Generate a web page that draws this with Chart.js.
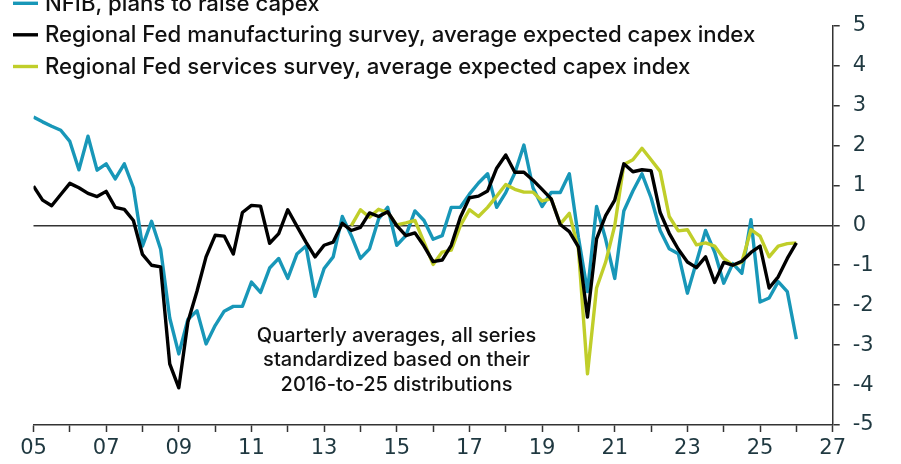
<!DOCTYPE html>
<html>
<head>
<meta charset="utf-8">
<script src="https://cdn.jsdelivr.net/npm/chart.js@4/dist/chart.umd.min.js"></script>
<style>
  html, body { margin: 0; padding: 0; background: #ffffff; }
  #wrap { width: 901px; height: 464px; position: relative; }
</style>
</head>
<body>
<div id="wrap"><canvas id="chart" width="901" height="464"></canvas></div>
<script>
// Quarterly averages, standardized (z-scores), 2005 Q1 onward
const firstQuarter = 2005;
const servicesFirstQuarter = 2013.75;

const nfibCapexPlans = [
  2.71, 2.59, 2.48, 2.38, 2.10, 1.39, 2.23, 1.38, 1.54, 1.16,
  1.54, 0.94, -0.52, 0.10, -0.60, -2.32, -3.22, -2.36, -2.14, -2.97,
  -2.51, -2.15, -2.03, -2.03, -1.42, -1.68, -1.07, -0.83, -1.33, -0.72,
  -0.52, -1.78, -1.08, -0.79, 0.22, -0.26, -0.83, -0.59, 0.16, 0.45,
  -0.50, -0.26, 0.36, 0.12, -0.35, -0.26, 0.45, 0.45, 0.78, 1.06,
  1.29, 0.45, 0.82, 1.31, 2.01, 0.94, 0.47, 0.82, 0.82, 1.29,
  -0.30, -1.66, 0.47, -0.35, -1.33, 0.36, 0.86, 1.29, 0.69, -0.13,
  -0.59, -0.71, -1.70, -0.92, -0.13, -0.67, -1.45, -0.96, -1.20, 0.14,
  -1.92, -1.82, -1.41, -1.66, -2.85
];

const fedManufacturingCapex = [
  0.98, 0.63, 0.49, 0.77, 1.05, 0.94, 0.80, 0.72, 0.85, 0.45,
  0.40, 0.12, -0.73, -1.00, -1.04, -3.47, -4.07, -2.42, -1.65, -0.79,
  -0.25, -0.27, -0.72, 0.32, 0.50, 0.48, -0.45, -0.21, 0.39, -0.02,
  -0.42, -0.79, -0.50, -0.42, 0.05, -0.13, -0.05, 0.31, 0.22, 0.34,
  -0.01, -0.26, -0.19, -0.52, -0.91, -0.87, -0.50, 0.20, 0.69, 0.73,
  0.86, 1.43, 1.76, 1.33, 1.33, 1.13, 0.90, 0.66, 0.02, -0.16,
  -0.54, -2.30, -0.34, 0.24, 0.63, 1.54, 1.34, 1.39, 1.37, 0.32,
  -0.20, -0.60, -0.92, -1.06, -0.79, -1.43, -0.93, -1.00, -0.90, -0.68,
  -0.52, -1.57, -1.29, -0.83, -0.44
];

const fedServicesCapex = [
  -0.01, 0.39, 0.20, 0.40, 0.32, 0.01, 0.06, 0.12, -0.42, -0.98,
  -0.67, -0.62, -0.01, 0.39, 0.22, 0.45, 0.73, 1.02, 0.90, 0.83,
  0.83, 0.61, 0.66, 0.03, 0.30, -0.59, -3.72, -1.57, -0.92, -0.01,
  1.52, 1.64, 1.93, 1.64, 1.35, 0.22, -0.14, -0.11, -0.49, -0.44,
  -0.52, -0.83, -1.00, -0.92, -0.11, -0.27, -0.79, -0.52, -0.46, -0.44
];

const seriesNames = [
  'NFIB, plans to raise capex',
  'Regional Fed manufacturing survey, average expected capex index',
  'Regional Fed services survey, average expected capex index'
];

const noteLines = [
  'Quarterly averages, all series',
  'standardized based on their',
  '2016-to-25 distributions'
];

const xRange = [2005, 2027];
const yRange = [-5, 5];

const BLUE = '#1897b8';
const BLACK = '#000000';
const LIME = '#c0ce2a';
const AXIS = '#333333';
const TICK_TEXT = '#1f3840';

function toPoints(values, start) {
  return values.map((v, i) => ({ x: start + i / 4, y: v }));
}

// Legend drawn inside the plot, top-left
const insideLegend = {
  id: 'insideLegend',
  afterDraw(chart) {
    const ctx = chart.ctx;
    const rows = [10.8, 42.3, 74];
    ctx.save();
    ctx.font = '500 22.2px Inter';
    ctx.textBaseline = 'alphabetic';
    ctx.textAlign = 'left';
    chart.data.datasets.forEach((ds, i) => {
      const base = rows[i];
      ctx.strokeStyle = ds.borderColor;
      ctx.lineWidth = 3.4;
      ctx.beginPath();
      ctx.moveTo(13, base - 7.5);
      ctx.lineTo(38, base - 7.5);
      ctx.stroke();
      ctx.fillStyle = '#111111';
      ctx.fillText(ds.label, 45, base);
    });
    ctx.restore();
  }
};

// Explanatory note under the lines
const noteText = {
  id: 'noteText',
  afterDraw(chart) {
    const ctx = chart.ctx;
    ctx.save();
    ctx.font = '500 20px Inter';
    ctx.fillStyle = '#111111';
    ctx.textAlign = 'center';
    ctx.textBaseline = 'alphabetic';
    const cx = 396.5;
    noteLines.forEach((t, i) => ctx.fillText(t, cx, 341.5 + i * 24.5));
    ctx.restore();
  }
};

new Chart(document.getElementById('chart'), {
  type: 'line',
  data: {
    datasets: [
      {
        label: seriesNames[0],
        data: toPoints(nfibCapexPlans, firstQuarter),
        borderColor: BLUE,
        order: 3
      },
      {
        label: seriesNames[1],
        data: toPoints(fedManufacturingCapex, firstQuarter),
        borderColor: BLACK,
        order: 1
      },
      {
        label: seriesNames[2],
        data: toPoints(fedServicesCapex, servicesFirstQuarter),
        borderColor: LIME,
        order: 2
      }
    ]
  },
  options: {
    responsive: false,
    devicePixelRatio: 1,
    animation: false,
    events: [],
    layout: { padding: { left: 33.5, top: 20.7, right: 0, bottom: 0 } },
    elements: {
      point: { radius: 0 },
      line: { borderWidth: 3.4, tension: 0, borderJoinStyle: 'round', fill: false }
    },
    plugins: {
      legend: { display: false },
      tooltip: { enabled: false }
    },
    scales: {
      x: {
        type: 'linear',
        min: xRange[0],
        max: xRange[1],
        afterFit(scale) { scale.height = 39; },
        ticks: {
          stepSize: 1,
          autoSkip: false,
          maxRotation: 0,
          padding: 4,
          color: TICK_TEXT,
          font: { family: 'DejaVu Sans', size: 21 },
          callback(v) {
            return v % 2 === 1 ? String(v % 100).padStart(2, '0') : '';
          }
        },
        grid: {
          drawOnChartArea: false,
          drawTicks: true,
          tickLength: 7,
          tickColor: AXIS,
          tickWidth: 1.5
        },
        border: { display: true, color: AXIS, width: 1.5 }
      },
      y: {
        position: 'right',
        min: yRange[0],
        max: yRange[1],
        afterFit(scale) { scale.width = 68.3; },
        ticks: {
          stepSize: 1,
          padding: 13,
          color: TICK_TEXT,
          font: { family: 'DejaVu Sans', size: 21 },
          callback(v) { return String(v); }
        },
        grid: {
          drawOnChartArea: true,
          drawTicks: true,
          tickLength: 7,
          color: (c) => (c.tick && c.tick.value === 0 ? AXIS : 'rgba(0,0,0,0)'),
          lineWidth: 1.5,
          tickColor: AXIS,
          tickWidth: 1.5
        },
        border: { display: true, color: AXIS, width: 1.5 }
      }
    }
  },
  plugins: [insideLegend, noteText]
});
</script>
</body>
</html>
